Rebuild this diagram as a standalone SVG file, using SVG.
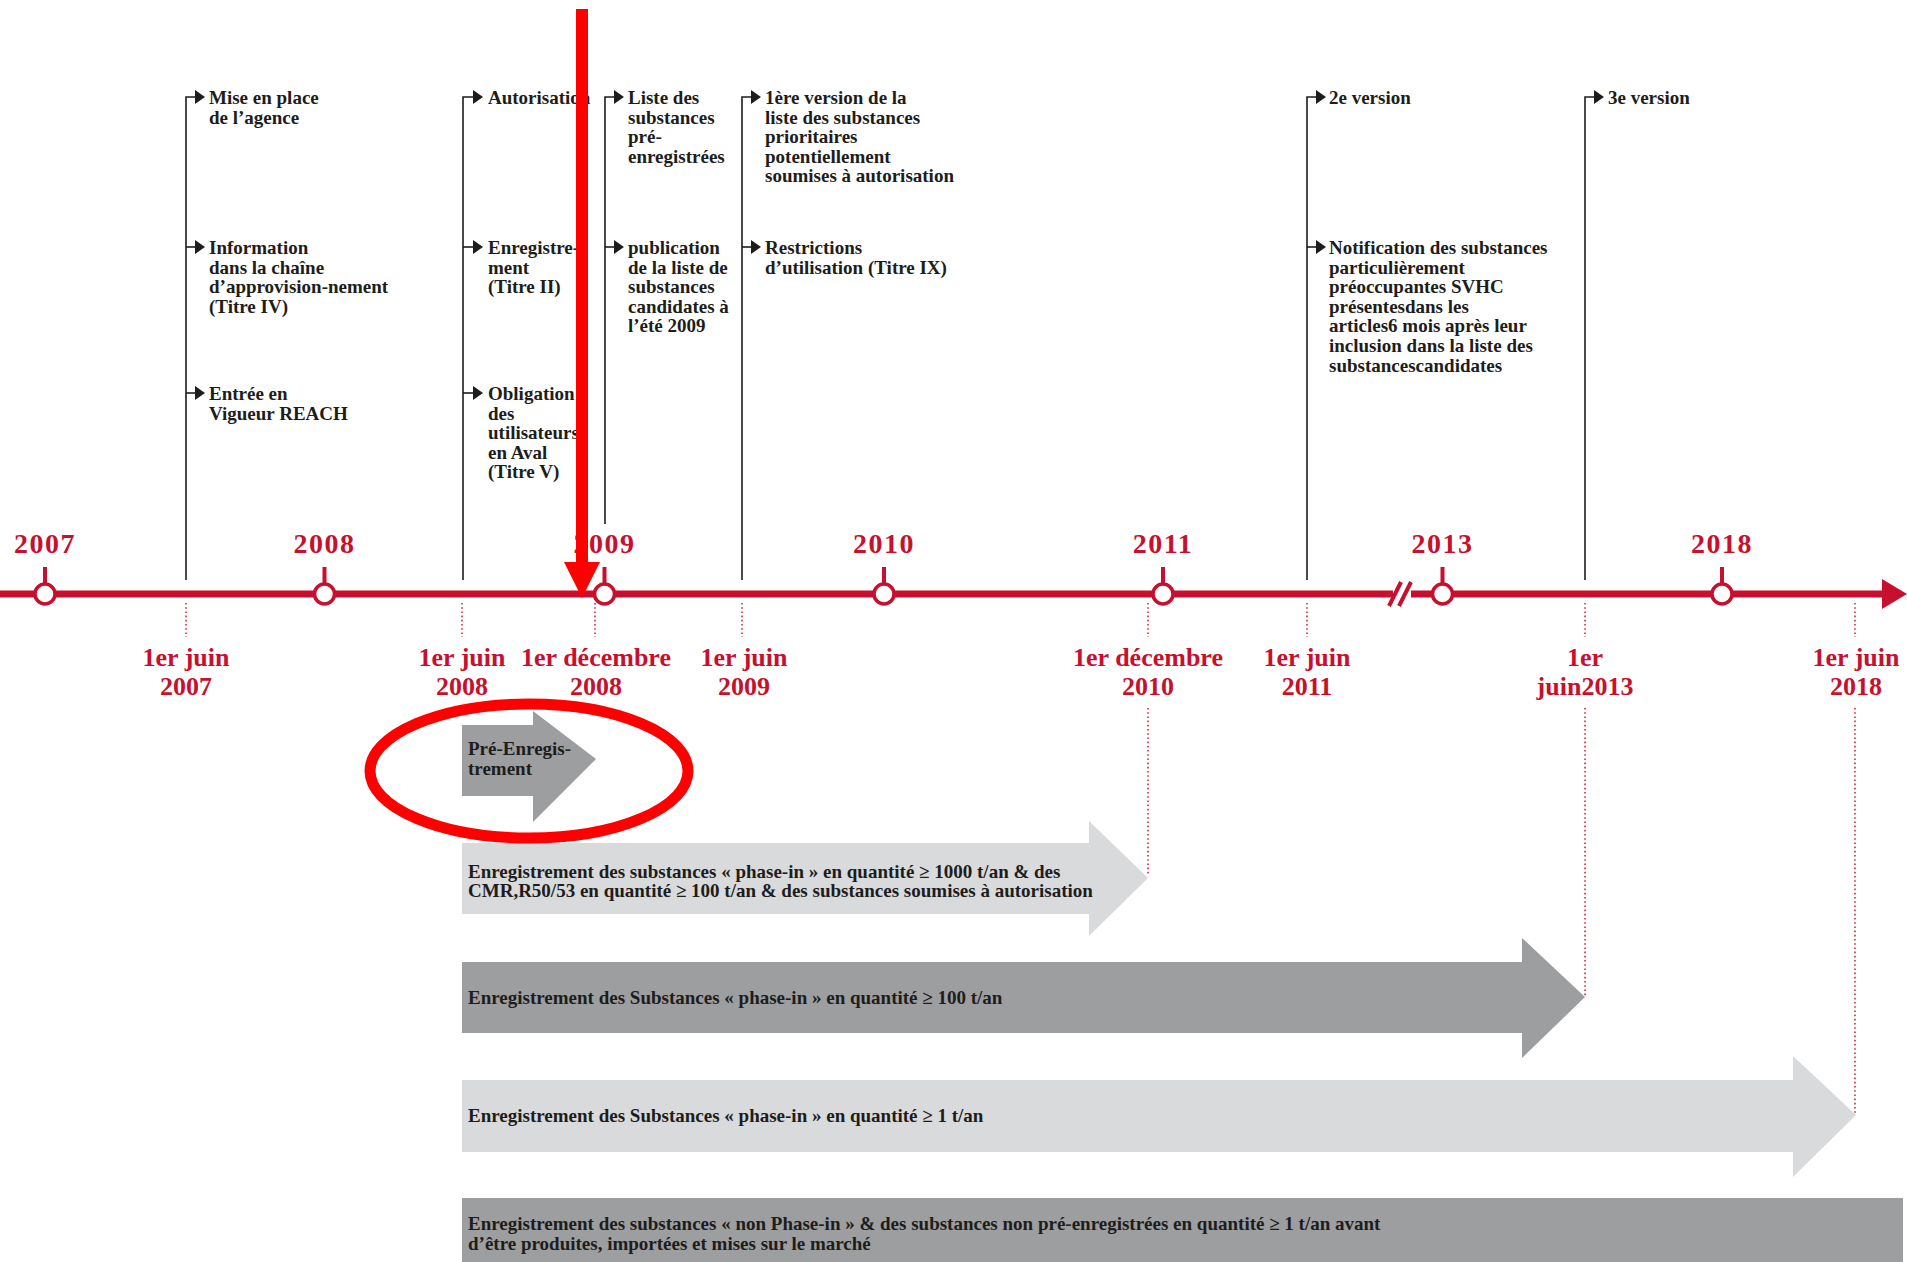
<svg xmlns="http://www.w3.org/2000/svg" width="1907" height="1262" viewBox="0 0 1907 1262">
<style>
.ann{font-family:"Liberation Serif",serif;font-weight:bold;font-size:19px;fill:#1d1d1b}
.yr{font-family:"Liberation Serif",serif;font-weight:bold;font-size:28px;fill:#C8102E;text-anchor:middle;letter-spacing:1.5px}
.dt{font-family:"Liberation Serif",serif;font-weight:bold;font-size:26px;fill:#C8102E;text-anchor:middle}
.bt{font-family:"Liberation Serif",serif;font-weight:bold;font-size:19px;fill:#1d1d1b}
.conn{fill:none;stroke:#1d1d1b;stroke-width:1.6}
.dot{fill:none;stroke:#D42A3C;stroke-width:1.6;stroke-dasharray:1.6 2.6}
.axis{fill:none;stroke:#C8102E;stroke-width:7}
.mk{fill:#fff;stroke:#C8102E;stroke-width:3.5}
.tick{fill:#C8102E}
.dark{fill:#9D9EA0}
.light{fill:#D9DADC}
</style>
<defs>
<marker id="ah" markerUnits="userSpaceOnUse" markerWidth="11" markerHeight="14" refX="0" refY="7" orient="auto">
<path d="M0,0 L10,7 L0,14 z" fill="#1d1d1b"/>
</marker>
</defs>

<g id="connectors">
<path class="conn" d="M186,580 V97 H195" marker-end="url(#ah)"/>
<path class="conn" d="M186,247 H195" marker-end="url(#ah)"/>
<path class="conn" d="M186,393 H195" marker-end="url(#ah)"/>
<path class="conn" d="M463,580 V97 H473" marker-end="url(#ah)"/>
<path class="conn" d="M463,247 H473" marker-end="url(#ah)"/>
<path class="conn" d="M463,393 H473" marker-end="url(#ah)"/>
<path class="conn" d="M605,524 V97 H614" marker-end="url(#ah)"/>
<path class="conn" d="M605,247 H614" marker-end="url(#ah)"/>
<path class="conn" d="M742,580 V97 H751" marker-end="url(#ah)"/>
<path class="conn" d="M742,247 H751" marker-end="url(#ah)"/>
<path class="conn" d="M1307,580 V97 H1316" marker-end="url(#ah)"/>
<path class="conn" d="M1307,247 H1316" marker-end="url(#ah)"/>
<path class="conn" d="M1585,580 V97 H1594" marker-end="url(#ah)"/>
<path class="dot" d="M186,603 V637 M462,603 V637 M595,603 V637 M742,603 V637 M1148,603 V637 M1307,603 V637 M1585,603 V637 M1855,603 V637"/>
<path class="dot" d="M1148,708 V876 M1585,708 V996 M1855,708 V1113"/>
</g>

<g id="col-a">
<text class="ann" x="209" y="104">Mise en place<tspan x="209" dy="19.6">de l’agence</tspan></text>
<text class="ann" x="209" y="254">Information<tspan x="209" dy="19.6">dans la chaîne</tspan><tspan x="209" dy="19.6">d’approvision-nement</tspan><tspan x="209" dy="19.6">(Titre IV)</tspan></text>
<text class="ann" x="209" y="400">Entrée en<tspan x="209" dy="19.6">Vigueur REACH</tspan></text>
</g>
<g id="col-b">
<text class="ann" x="488" y="104">Autorisation</text>
<text class="ann" x="488" y="254">Enregistre-<tspan x="488" dy="19.6">ment</tspan><tspan x="488" dy="19.6">(Titre II)</tspan></text>
<text class="ann" x="488" y="400">Obligation<tspan x="488" dy="19.6">des</tspan><tspan x="488" dy="19.6">utilisateurs</tspan><tspan x="488" dy="19.6">en Aval</tspan><tspan x="488" dy="19.6">(Titre V)</tspan></text>
</g>
<g id="col-c">
<text class="ann" x="628" y="104">Liste des<tspan x="628" dy="19.6">substances</tspan><tspan x="628" dy="19.6">pré-</tspan><tspan x="628" dy="19.6">enregistrées</tspan></text>
<text class="ann" x="628" y="254">publication<tspan x="628" dy="19.6">de la liste de</tspan><tspan x="628" dy="19.6">substances</tspan><tspan x="628" dy="19.6">candidates à</tspan><tspan x="628" dy="19.6">l’été 2009</tspan></text>
</g>
<g id="col-d">
<text class="ann" x="765" y="104">1ère version de la<tspan x="765" dy="19.6">liste des substances</tspan><tspan x="765" dy="19.6">prioritaires</tspan><tspan x="765" dy="19.6">potentiellement</tspan><tspan x="765" dy="19.6">soumises à autorisation</tspan></text>
<text class="ann" x="765" y="254">Restrictions<tspan x="765" dy="19.6">d’utilisation (Titre IX)</tspan></text>
</g>
<g id="col-e">
<text class="ann" x="1329" y="104">2e version</text>
<text class="ann" x="1329" y="254">Notification des substances<tspan x="1329" dy="19.6">particulièrement</tspan><tspan x="1329" dy="19.6">préoccupantes SVHC</tspan><tspan x="1329" dy="19.6">présentesdans les</tspan><tspan x="1329" dy="19.6">articles6 mois après leur</tspan><tspan x="1329" dy="19.6">inclusion dans la liste des</tspan><tspan x="1329" dy="19.6">substancescandidates</tspan></text>
</g>
<g id="col-f">
<text class="ann" x="1608" y="104">3e version</text>
</g>

<g id="timeline">
<path class="axis" d="M0,594 H1393 M1411,594 H1886"/>
<path d="M1882,579 L1907,594 L1882,609 z" fill="#C8102E"/>
<path d="M1389,606 L1401,582 M1399,606 L1411,582" stroke="#C8102E" stroke-width="4" fill="none"/>
</g>

<g id="years">
<g id="y2007"><rect class="tick" x="43" y="567" width="4" height="18"/><circle class="mk" cx="45" cy="594" r="10"/><text class="yr" x="45" y="553">2007</text></g>
<g id="y2008"><rect class="tick" x="322.5" y="567" width="4" height="18"/><circle class="mk" cx="324.5" cy="594" r="10"/><text class="yr" x="324.5" y="553">2008</text></g>
<g id="y2009"><rect class="tick" x="602.5" y="567" width="4" height="18"/><circle class="mk" cx="604.5" cy="594" r="10"/><text class="yr" x="604.5" y="553">2009</text></g>
<g id="y2010"><rect class="tick" x="882" y="567" width="4" height="18"/><circle class="mk" cx="884" cy="594" r="10"/><text class="yr" x="884" y="553">2010</text></g>
<g id="y2011"><rect class="tick" x="1161" y="567" width="4" height="18"/><circle class="mk" cx="1163" cy="594" r="10"/><text class="yr" x="1163" y="553">2011</text></g>
<g id="y2013"><rect class="tick" x="1440.5" y="567" width="4" height="18"/><circle class="mk" cx="1442.5" cy="594" r="10"/><text class="yr" x="1442.5" y="553">2013</text></g>
<g id="y2018"><rect class="tick" x="1720" y="567" width="4" height="18"/><circle class="mk" cx="1722" cy="594" r="10"/><text class="yr" x="1722" y="553">2018</text></g>
</g>

<g id="dates">
<text class="dt" x="186" y="666">1er juin<tspan x="186" dy="29">2007</tspan></text>
<text class="dt" x="462" y="666">1er juin<tspan x="462" dy="29">2008</tspan></text>
<text class="dt" x="596" y="666">1er décembre<tspan x="596" dy="29">2008</tspan></text>
<text class="dt" x="744" y="666">1er juin<tspan x="744" dy="29">2009</tspan></text>
<text class="dt" x="1148" y="666">1er décembre<tspan x="1148" dy="29">2010</tspan></text>
<text class="dt" x="1307" y="666">1er juin<tspan x="1307" dy="29">2011</tspan></text>
<text class="dt" x="1585" y="666">1er<tspan x="1585" dy="29">juin2013</tspan></text>
<text class="dt" x="1856" y="666">1er juin<tspan x="1856" dy="29">2018</tspan></text>
</g>

<g id="bar-pre">
<path class="dark" d="M462,725 H533 V711 L596,759 L533,822 V796 H462 z"/>
<text class="bt" x="468" y="755">Pré-Enregis-<tspan x="468" dy="20">trement</tspan></text>
</g>
<g id="bar-1000">
<path class="light" d="M462,843 H1089 V821 L1148,878 L1089,936 V914 H462 z"/>
<text class="bt" x="468" y="878">Enregistrement des substances « phase-in » en quantité ≥ 1000 t/an &amp; des<tspan x="468" dy="18.5">CMR,R50/53 en quantité ≥ 100 t/an &amp; des substances soumises à autorisation</tspan></text>
</g>
<g id="bar-100">
<path class="dark" d="M462,962 H1522 V938 L1585,997 L1522,1058 V1033 H462 z"/>
<text class="bt" x="468" y="1004">Enregistrement des Substances « phase-in » en quantité ≥ 100 t/an</text>
</g>
<g id="bar-1">
<path class="light" d="M462,1080 H1793 V1056 L1856,1115 L1793,1177 V1152 H462 z"/>
<text class="bt" x="468" y="1122">Enregistrement des Substances « phase-in » en quantité ≥ 1 t/an</text>
</g>
<g id="bar-non">
<rect class="dark" x="462" y="1198" width="1441" height="64"/>
<text class="bt" x="468" y="1230">Enregistrement des substances « non Phase-in » &amp; des substances non pré-enregistrées en quantité ≥ 1 t/an avant<tspan x="468" dy="20">d’être produites, importées et mises sur le marché</tspan></text>
</g>

<g id="highlight">
<rect x="576" y="9" width="12" height="555" fill="#FF0000"/>
<path d="M564,562 L600,562 L582,598 z" fill="#FF0000"/>
<ellipse cx="529" cy="771" rx="159" ry="67" fill="none" stroke="#FF0000" stroke-width="11"/>
</g>
</svg>
